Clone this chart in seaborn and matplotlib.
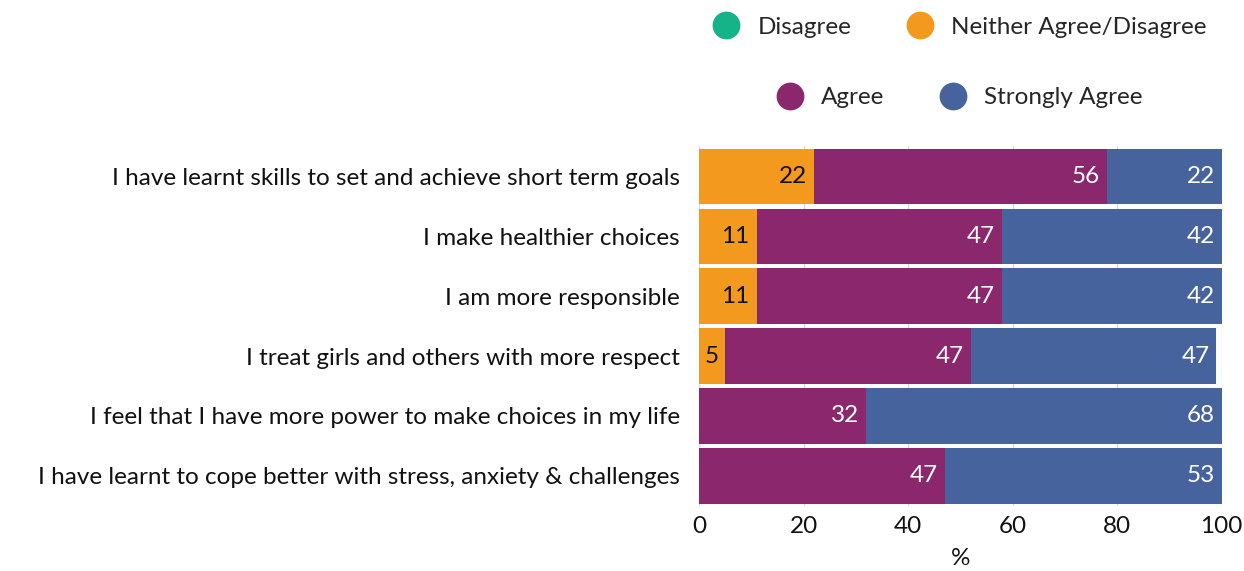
import pandas as pd
import numpy as np
import matplotlib.pyplot as plt
import seaborn as sns
from matplotlib.lines import Line2D

# 数据
categories = [
    'I have learnt skills to set and achieve short term goals',
    'I make healthier choices',
    'I am more responsible',
    'I treat girls and others with more respect',
    'I feel that I have more power to make choices in my life',
    'I have learnt to cope better with stress, anxiety & challenges',
]
disagree = [0, 0, 0, 0, 0, 0]
neither = [22, 11, 11, 5, 0, 0]
agree = [56, 47, 47, 47, 32, 47]
strongly_agree = [22, 42, 42, 47, 68, 53]
x_ticks = [0, 20, 40, 60, 80, 100]

series_names = ['Disagree', 'Neither Agree/Disagree', 'Agree', 'Strongly Agree']
colors = ['#16B388', '#F39A1E', '#8B286D', '#47639D']
text_colors = ['white', '#111111', 'white', 'white']

sns.set_theme(style='white')
plt.rcParams['font.family'] = ['Lato', 'DejaVu Sans']

df = pd.DataFrame({
    'category': categories,
    'Disagree': disagree,
    'Neither Agree/Disagree': neither,
    'Agree': agree,
    'Strongly Agree': strongly_agree,
})
vals = df[series_names].to_numpy()
cum = vals.cumsum(axis=1)

fig = plt.figure(figsize=(12.44, 5.71), dpi=100)
ax = fig.add_axes([0.562, 0.114, 0.42, 0.63])

# 从最长的累计值开始画，实现堆叠效果
for i in reversed(range(len(series_names))):
    plot_df = pd.DataFrame({'category': categories, 'value': cum[:, i]})
    sns.barplot(data=plot_df, x='value', y='category', order=categories,
                color=colors[i], saturation=1, width=0.92, orient='h',
                linewidth=0, ax=ax, zorder=2)

# 数值标签
for r in range(len(categories)):
    for i in range(len(series_names)):
        v = vals[r, i]
        if v <= 0:
            continue
        ax.annotate(f'{v:g}', xy=(cum[r, i], r), xytext=(-5, 0),
                    textcoords='offset points', ha='right', va='center',
                    fontsize=17.5, color=text_colors[i], zorder=3)

ax.set_xlim(0, 100)
ax.set_xticks(x_ticks)
ax.tick_params(axis='x', labelsize=17.5, length=0, pad=7, labelcolor='#111111')
ax.tick_params(axis='y', labelsize=17.5, length=0, pad=14, labelcolor='#111111')
ax.set_xlabel('%', fontsize=17.5, color='#111111', labelpad=8)
ax.set_ylabel('')
ax.grid(axis='x', color='#d9d9d9', linewidth=1, zorder=0)
ax.set_axisbelow(True)
for s in ax.spines.values():
    s.set_visible(False)

# 图例分两行
def handles(idx):
    return [Line2D([0], [0], marker='o', linestyle='', markersize=19,
                   markerfacecolor=colors[i], markeredgecolor=colors[i],
                   label=series_names[i]) for i in idx]

leg1 = fig.legend(handles=handles([0, 1]), loc='center', bbox_to_anchor=(0.767, 0.952),
                  ncol=2, frameon=False, fontsize=17.5, handletextpad=0.3,
                  columnspacing=1.8)
leg2 = fig.legend(handles=handles([2, 3]), loc='center', bbox_to_anchor=(0.767, 0.829),
                  ncol=2, frameon=False, fontsize=17.5, handletextpad=0.3,
                  columnspacing=1.8)

plt.savefig('out.png', dpi=100)
